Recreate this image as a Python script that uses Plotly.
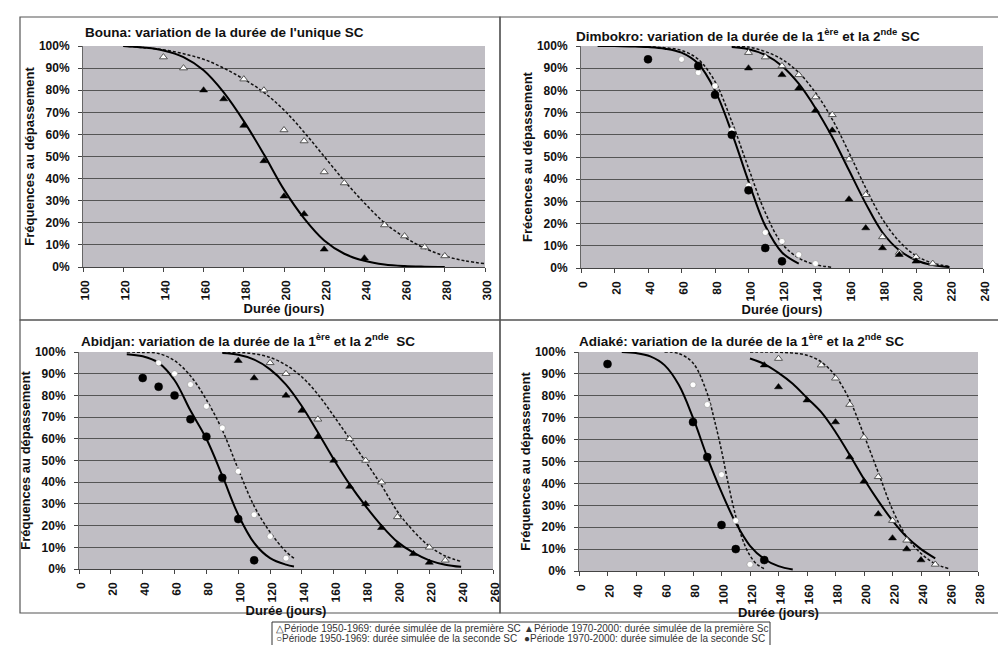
import plotly.graph_objects as go

W, H = 1006, 645
OFF = 8  # page body margin shifts the figure by 8px; positions below are screen pixels
FONT = "Liberation Sans, Arial, sans-serif"

# ---------------- Bouna ----------------
BOU_OPEN_TRI_X = [140, 150, 180, 190, 200, 210, 220, 230, 250, 260, 270, 280]
BOU_OPEN_TRI_Y = [95, 90, 85, 80, 62, 57, 43, 38, 19, 14, 9, 5]
BOU_FILL_TRI_X = [160, 170, 180, 190, 200, 210, 220, 240]
BOU_FILL_TRI_Y = [80, 76, 64, 48, 32, 24, 8, 4]
BOU_DASH_X = [120, 130, 140, 150, 160, 170, 180, 190, 200, 210, 220, 230, 240, 250, 260, 270, 280, 290, 300]
BOU_DASH_Y = [100, 99.3, 98.3, 96.5, 94, 90, 85, 79, 71, 61, 50, 39, 29, 20, 13.5, 8.5, 5, 2.8, 1.5]
BOU_SOLID_X = [120, 130, 140, 150, 160, 170, 180, 190, 200, 210, 220, 230, 240, 250, 260, 270, 280]
BOU_SOLID_Y = [100, 99.3, 98, 95, 89, 79, 66, 51, 35, 22, 12, 6, 2.8, 1.1, 0.4, 0.15, 0.05]

# ---------------- Dimbokro ----------------
DIM_FILL_CIR_X = [40, 70, 80, 90, 100, 110, 120]
DIM_FILL_CIR_Y = [94, 91, 78, 60, 35, 9, 3]
DIM_OPEN_CIR_X = [60, 70, 80, 90, 100, 110, 120, 130, 140]
DIM_OPEN_CIR_Y = [94, 88, 82, 62, 37, 16, 12, 6, 2]
DIM_OPEN_TRI_X = [100, 110, 120, 130, 140, 150, 160, 170, 180, 190, 200, 210]
DIM_OPEN_TRI_Y = [97, 95, 91, 87, 77, 69, 49, 33, 14, 7, 5, 2]
DIM_FILL_TRI_X = [100, 120, 130, 140, 150, 160, 170, 180, 190, 200]
DIM_FILL_TRI_Y = [90, 87, 81, 71, 62, 31, 18, 9, 6, 3]
DIM_C2_SOLID_X = [10, 20, 30, 40, 50, 60, 70, 80, 90, 100, 110, 120, 130]
DIM_C2_SOLID_Y = [100, 100, 99.8, 99.5, 98.8, 97, 92, 80, 61, 39, 19, 7, 2]
DIM_C2_DASH_X = [10, 20, 30, 40, 50, 60, 70, 80, 90, 100, 110, 120, 130, 140, 150]
DIM_C2_DASH_Y = [100, 100, 100, 99.7, 99.2, 98, 94, 84, 66, 45, 25, 11, 4.5, 1.5, 0.3]
DIM_C1_SOLID_X = [90, 100, 110, 120, 130, 140, 150, 160, 170, 180, 190, 200, 210, 220]
DIM_C1_SOLID_Y = [99.5, 98.5, 96, 91, 83, 72, 59, 44, 29, 16, 8, 3.5, 1.3, 0.4]
DIM_C1_DASH_X = [90, 100, 110, 120, 130, 140, 150, 160, 170, 180, 190, 200, 210, 220]
DIM_C1_DASH_Y = [100, 99.5, 97.5, 94, 88, 79, 67, 52, 36, 22, 12, 5.5, 2.2, 0.7]

# ---------------- Abidjan ----------------
ABJ_FILL_CIR_X = [40, 50, 60, 70, 80, 90, 100, 110]
ABJ_FILL_CIR_Y = [88, 84, 80, 69, 61, 42, 23, 4]
ABJ_OPEN_CIR_X = [50, 60, 70, 80, 90, 100, 110, 120, 130]
ABJ_OPEN_CIR_Y = [95, 90, 85, 75, 65, 45, 25, 15, 5]
ABJ_FILL_TRI_X = [100, 110, 130, 140, 150, 160, 170, 180, 190, 200, 210, 220]
ABJ_FILL_TRI_Y = [96, 88, 80, 73, 61, 50, 38, 30, 19, 11, 7, 3]
ABJ_OPEN_TRI_X = [120, 130, 150, 170, 180, 190, 200, 220, 230]
ABJ_OPEN_TRI_Y = [95, 90, 69, 60, 50, 40, 24, 10, 4]
ABJ_C2_SOLID_X = [30, 40, 50, 60, 70, 80, 90, 100, 110, 120, 130, 135]
ABJ_C2_SOLID_Y = [99, 98, 95, 87, 73, 60, 43, 25, 12, 5, 2, 1.2]
ABJ_C2_DASH_X = [30, 40, 50, 60, 70, 80, 90, 100, 110, 120, 130, 135]
ABJ_C2_DASH_Y = [100, 99.8, 99.3, 96, 89, 78, 64, 46, 29, 17, 8, 5]
ABJ_C1_SOLID_X = [90, 100, 110, 120, 130, 140, 150, 160, 170, 180, 190, 200, 210, 220, 230, 240]
ABJ_C1_SOLID_Y = [99.5, 98.7, 96.5, 92, 85, 75, 63, 50.5, 39, 29, 20, 12.5, 7.5, 4, 2, 1]
ABJ_C1_DASH_X = [90, 100, 110, 120, 130, 140, 150, 160, 170, 180, 190, 200, 210, 220, 230, 240]
ABJ_C1_DASH_Y = [100, 99.8, 99.2, 97.5, 94, 88.5, 80.5, 70.5, 60, 49.5, 38.5, 26.5, 17.5, 10.5, 6, 3.5]

# ---------------- Adiaké ----------------
ADI_FILL_CIR_X = [20, 80, 90, 100, 110, 130]
ADI_FILL_CIR_Y = [94.5, 68, 52, 21, 10, 5]
ADI_OPEN_CIR_X = [80, 90, 100, 110, 120]
ADI_OPEN_CIR_Y = [85, 76, 44, 23, 3]
ADI_FILL_TRI_X = [130, 140, 160, 180, 190, 200, 210, 220, 230, 240]
ADI_FILL_TRI_Y = [94, 84, 78, 68, 52, 41, 26, 15, 10, 5]
ADI_OPEN_TRI_X = [140, 170, 180, 190, 200, 210, 220, 230, 250]
ADI_OPEN_TRI_Y = [97, 94, 88, 76, 61, 43, 23, 14, 3]
ADI_C2_SOLID_X = [30, 40, 50, 60, 70, 80, 90, 100, 110, 120, 130, 140, 150]
ADI_C2_SOLID_Y = [100, 99.5, 98, 94, 85, 70, 52, 36, 22, 11.5, 5.5, 2.2, 0.7]
ADI_C2_DASH_X = [60, 70, 80, 90, 95, 100, 105, 110, 115, 120, 125, 130]
ADI_C2_DASH_Y = [100, 99.3, 95, 81, 69, 55, 39, 25, 14, 7, 3, 1]
ADI_C1_SOLID_X = [120, 130, 140, 150, 160, 170, 180, 190, 200, 210, 220, 230, 240, 250]
ADI_C1_SOLID_Y = [97, 94.5, 90.5, 85.5, 79, 72.5, 63.5, 53, 42, 32, 23, 15.5, 10, 5.8]
ADI_C1_DASH_X = [120, 130, 140, 150, 160, 170, 180, 190, 200, 210, 220, 230, 240, 250, 260]
ADI_C1_DASH_Y = [100, 100, 99.9, 99.5, 98.5, 95.5, 89, 78, 62, 45, 28, 15.5, 8, 3.3, 1]

# ---------------- Texts ----------------
TITLES = [
    "Bouna: variation de la durée de l'unique SC",
    "Dimbokro: variation de la durée de la 1<sup>ère</sup> et la 2<sup>nde</sup> SC",
    "Abidjan: variation de la durée de la 1<sup>ère</sup> et la 2<sup>nde</sup>  SC",
    "Adiaké: variation de la durée de la 1<sup>ère</sup> et la 2<sup>nde</sup> SC",
]
YTITLES = ["Fréquences au dépassement", "Frécences au dépassement",
           "Fréquences au dépassement", "Fréquences au dépassement"]
XTITLE = "Durée (jours)"
XRANGES = [[100, 300], [0, 240], [0, 260], [0, 280]]
LEGEND_TEXTS = [
    "△Période 1950-1969: durée simulée de la première SC",
    "▲Période 1970-2000: durée simulée de la première Sc",
    "○Période 1950-1969: durée simulée de la seconde SC",
    "●Période 1970-2000: durée simulée de la seconde SC",
]

# plot-area boxes in screen pixels (left, top, right, bottom)
PLOT_PX = [(83, 46, 485, 267), (581, 46, 983, 268), (79, 352, 493, 569), (579, 352, 978, 571)]
PANEL_PX = [(20, 17, 500, 320), (500, 17, 1001, 320), (20, 320, 500, 613), (500, 320, 1001, 613)]
TITLE_PX = [(83, 33), (574, 35), (79, 340), (577, 340)]


def px(x):
    return (x - OFF) / W


def py(y):
    return 1 - (y - OFF) / H


fig = go.Figure()

STYLE = {
    "open_tri": dict(symbol="triangle-up", size=7, color="white", line=dict(color="#555555", width=1)),
    "fill_tri": dict(symbol="triangle-up", size=7, color="black", line=dict(color="black", width=0.5)),
    "open_cir": dict(symbol="circle", size=6, color="white", line=dict(color="#888888", width=0.5)),
    "fill_cir": dict(symbol="circle", size=8, color="black", line=dict(color="black", width=0.5)),
}
SOLID = dict(color="black", width=2)
DASH = dict(color="#111111", width=1.5, dash="3px,2px")


def add_curve(i, xs, ys, line):
    fig.add_trace(go.Scatter(x=xs, y=ys, mode="lines", line=dict(shape="spline", smoothing=1.0, **line),
                             xaxis=f"x{i}", yaxis=f"y{i}", showlegend=False, hoverinfo="skip"))


def add_points(i, xs, ys, kind):
    fig.add_trace(go.Scatter(x=xs, y=ys, mode="markers", marker=STYLE[kind],
                             xaxis=f"x{i}", yaxis=f"y{i}", showlegend=False))


# Bouna
add_curve("", BOU_DASH_X, BOU_DASH_Y, DASH)
add_curve("", BOU_SOLID_X, BOU_SOLID_Y, SOLID)
add_points("", BOU_OPEN_TRI_X, BOU_OPEN_TRI_Y, "open_tri")
add_points("", BOU_FILL_TRI_X, BOU_FILL_TRI_Y, "fill_tri")
# Dimbokro
add_curve(2, DIM_C2_DASH_X, DIM_C2_DASH_Y, DASH)
add_curve(2, DIM_C2_SOLID_X, DIM_C2_SOLID_Y, SOLID)
add_curve(2, DIM_C1_DASH_X, DIM_C1_DASH_Y, DASH)
add_curve(2, DIM_C1_SOLID_X, DIM_C1_SOLID_Y, SOLID)
add_points(2, DIM_OPEN_CIR_X, DIM_OPEN_CIR_Y, "open_cir")
add_points(2, DIM_FILL_CIR_X, DIM_FILL_CIR_Y, "fill_cir")
add_points(2, DIM_OPEN_TRI_X, DIM_OPEN_TRI_Y, "open_tri")
add_points(2, DIM_FILL_TRI_X, DIM_FILL_TRI_Y, "fill_tri")
# Abidjan
add_curve(3, ABJ_C2_DASH_X, ABJ_C2_DASH_Y, DASH)
add_curve(3, ABJ_C2_SOLID_X, ABJ_C2_SOLID_Y, SOLID)
add_curve(3, ABJ_C1_DASH_X, ABJ_C1_DASH_Y, DASH)
add_curve(3, ABJ_C1_SOLID_X, ABJ_C1_SOLID_Y, SOLID)
add_points(3, ABJ_OPEN_CIR_X, ABJ_OPEN_CIR_Y, "open_cir")
add_points(3, ABJ_FILL_CIR_X, ABJ_FILL_CIR_Y, "fill_cir")
add_points(3, ABJ_OPEN_TRI_X, ABJ_OPEN_TRI_Y, "open_tri")
add_points(3, ABJ_FILL_TRI_X, ABJ_FILL_TRI_Y, "fill_tri")
# Adiaké
add_curve(4, ADI_C2_DASH_X, ADI_C2_DASH_Y, DASH)
add_curve(4, ADI_C2_SOLID_X, ADI_C2_SOLID_Y, SOLID)
add_curve(4, ADI_C1_DASH_X, ADI_C1_DASH_Y, DASH)
add_curve(4, ADI_C1_SOLID_X, ADI_C1_SOLID_Y, SOLID)
add_points(4, ADI_OPEN_CIR_X, ADI_OPEN_CIR_Y, "open_cir")
add_points(4, ADI_FILL_CIR_X, ADI_FILL_CIR_Y, "fill_cir")
add_points(4, ADI_OPEN_TRI_X, ADI_OPEN_TRI_Y, "open_tri")
add_points(4, ADI_FILL_TRI_X, ADI_FILL_TRI_Y, "fill_tri")

TICKFONT = dict(family=FONT, size=12, color="#111111", weight="bold")
TITLEFONT = dict(family=FONT, size=13, color="#111111", weight="bold")

layout = dict(
    width=W, height=H,
    margin=dict(l=0, r=0, t=0, b=0, pad=0, autoexpand=False),
    paper_bgcolor="white",
    plot_bgcolor="#c0bec4",
    showlegend=False,
    font=dict(family=FONT),
)

for k in range(4):
    l, t, r, b = PLOT_PX[k]
    sfx = "" if k == 0 else str(k + 1)
    layout[f"xaxis{sfx}"] = dict(
        domain=[px(l), px(r)], anchor=f"y{sfx}", range=XRANGES[k], dtick=20, tick0=0,
        tickangle=-89.9, automargin=False, ticks="outside", ticklen=4, tickcolor="#444444",
        showline=True, linecolor="#444444", linewidth=1, showgrid=False, zeroline=False,
        tickfont=TICKFONT, title=dict(text=XTITLE, font=TITLEFONT, standoff=4),
    )
    layout[f"yaxis{sfx}"] = dict(
        domain=[py(b), py(t)], anchor=f"x{sfx}", range=[0, 100], dtick=10, tick0=0,
        automargin=False, ticksuffix="%", ticks="outside", ticklen=4, tickcolor="#444444",
        ticklabelstandoff=6,
        showline=True, linecolor="#666666", linewidth=1,
        showgrid=True, gridcolor="#555555", gridwidth=1, zeroline=False,
        tickfont=TICKFONT, title=dict(text=YTITLES[k], font=TITLEFONT, standoff=1),
    )

fig.update_layout(**layout)

# panel frames
for (l, t, r, b) in PANEL_PX:
    fig.add_shape(type="rect", xref="paper", yref="paper",
                  x0=px(l), x1=px(r), y0=py(b), y1=py(t),
                  line=dict(color="#555555", width=1.2), fillcolor="rgba(0,0,0,0)", layer="below")

# panel titles
for k in range(4):
    x, y = TITLE_PX[k]
    fig.add_annotation(text=TITLES[k], xref="paper", yref="paper", x=px(x), y=py(y),
                       xanchor="left", yanchor="middle", showarrow=False,
                       font=dict(family=FONT, size=13.5, color="#111111", weight="bold"))

# legend box (bottom, partially cut as in the source)
fig.add_shape(type="rect", xref="paper", yref="paper",
              x0=px(272), x1=px(770), y0=py(650), y1=py(622),
              line=dict(color="#333333", width=1), fillcolor="white")
LEG_POS = [(274, 628), (522, 628), (274, 638), (522, 638)]
for txt, (x, y) in zip(LEGEND_TEXTS, LEG_POS):
    fig.add_annotation(text=txt, xref="paper", yref="paper", x=px(x), y=py(y),
                       xanchor="left", yanchor="middle", showarrow=False,
                       font=dict(family=FONT, size=10, color="#333333"))

fig.write_html("out.html")
